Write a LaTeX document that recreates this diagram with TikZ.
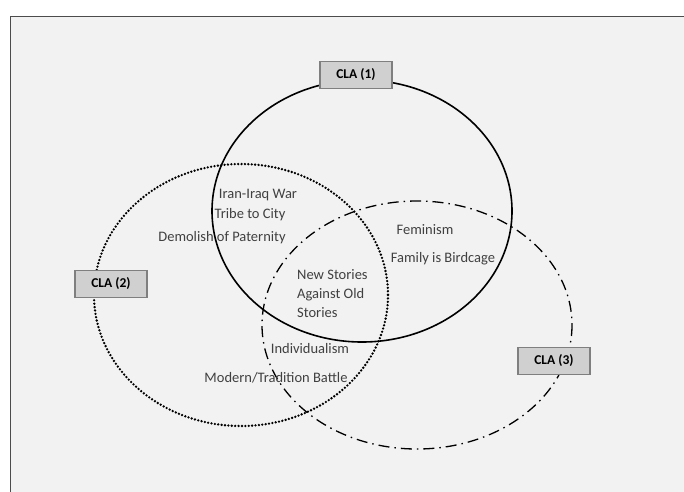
\documentclass[tikz,border=0pt]{standalone}
\usepackage{fontspec}
\setmainfont{Carlito}
\usetikzlibrary{positioning}
\definecolor{pagegray}{HTML}{F2F2F2}
\definecolor{boxgray}{HTML}{D0D0D0}
\definecolor{boxline}{HTML}{7F7F7F}
\definecolor{textgray}{HTML}{404040}
\begin{document}
\begin{tikzpicture}[x=1pt, y=-1pt,
    clabox/.style={draw=boxline, fill=boxgray, line width=1.2pt, minimum width=72pt,
        minimum height=27pt, inner sep=0pt, font=\fontsize{13.5}{15}\selectfont\bfseries},
    lbl/.style={text=textgray, inner sep=0pt, font=\fontsize{14.5}{19}\selectfont},
    cla1line/.style={line width=1.6pt},
    cla2line/.style={line width=2.6pt, line cap=round, dash pattern=on 0pt off 3.4pt},
    cla3line/.style={line width=1.3pt, dash pattern=on 11pt off 5pt on 1.5pt off 5pt}]
        \useasboundingbox (0,0) rectangle (684,491);
        \fill[white] (0,0) rectangle (684,491);
        \draw[fill=pagegray, draw=black!70, line width=1pt] (10,16) rectangle (690,497);

        % the three layers
        \draw[cla1line] (362,211) ellipse [x radius=150, y radius=131];
        \draw[cla2line] (241,295) ellipse [x radius=147, y radius=131];
        \draw[cla3line] (417,325) ellipse [x radius=155, y radius=124];

        \node[clabox] (cla1) at (356,75) {CLA (1)};
        \node[clabox] (cla2) at (111,284) {CLA (2)};
        \node[clabox] (cla3) at (554,361) {CLA (3)};

        \node[lbl] (war) at (258,195) {Iran-Iraq War};
        \node[lbl] (tribe) at (250,215) {Tribe to City};
        \node[lbl] (pater) at (222,238) {Demolish of Paternity};
        \node[lbl, align=left, anchor=north west] (stories) at (297,269) {New Stories\\Against Old\\Stories};
        \node[lbl] (fem) at (425,230) {Feminism};
        \node[lbl] (cage) at (443,259) {Family is Birdcage};
        \node[lbl] (indiv) at (310,349) {Individualism};
        \node[lbl] (battle) at (276,378) {Modern/Tradition Battle};
    \end{tikzpicture}
\end{document}
